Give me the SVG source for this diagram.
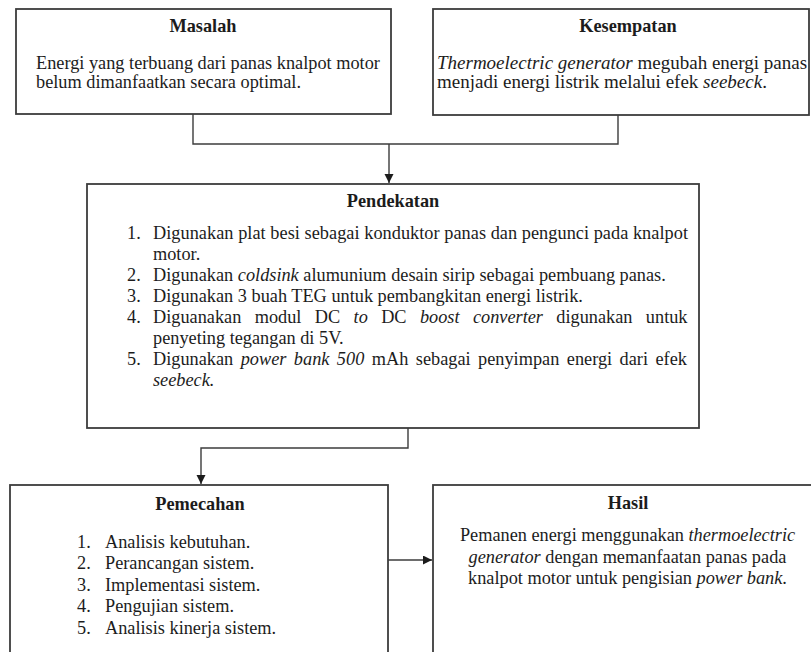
<svg xmlns="http://www.w3.org/2000/svg" width="811" height="652" viewBox="0 0 811 652">
<style>
  .box{fill:#fff;stroke:#3c3c3c;stroke-width:1.8}
  text{font-family:"Liberation Serif","Times New Roman",serif;font-size:18.3px;fill:#1c1c1c}
  .t{font-weight:bold;text-anchor:middle}
  .c{text-anchor:middle}
  .i{font-style:italic}
  .k{font-size:19px}
  .conn{fill:none;stroke:#3c3c3c;stroke-width:1.4}
</style>
<defs>
  <marker id="arr" markerUnits="userSpaceOnUse" markerWidth="10" markerHeight="10" refX="9" refY="4.5" orient="auto">
    <path d="M0,0 L9,4.5 L0,9 z" fill="#1c1c1c"/>
  </marker>
</defs>
<rect width="811" height="652" fill="#fff"/>
<g id="connectors">
  <path class="conn" d="M193,114 V144 H618 V115"/>
  <path class="conn" d="M389,144 V183" marker-end="url(#arr)"/>
  <path class="conn" d="M408,428 V448 H201 V484" marker-end="url(#arr)"/>
  <path class="conn" d="M388,560 H432" marker-end="url(#arr)"/>
</g>
<g id="masalah">
  <rect class="box" x="16" y="9" width="375" height="105"/>
  <text class="t" x="203" y="32">Masalah</text>
  <text x="36" y="69">Energi yang terbuang dari panas knalpot motor</text>
  <text x="36" y="88">belum dimanfaatkan secara optimal.</text>
</g>
<g id="kesempatan">
  <rect class="box" x="433" y="9" width="376" height="106"/>
  <text class="t" x="628" y="32">Kesempatan</text>
  <text class="k" x="437" y="69"><tspan class="i">Thermoelectric generator</tspan> megubah energi panas</text>
  <text class="k" x="437" y="88">menjadi energi listrik melalui efek <tspan class="i">seebeck</tspan>.</text>
</g>
<g id="pendekatan">
  <rect class="box" x="87" y="184" width="612" height="244"/>
  <text class="t" x="393" y="207">Pendekatan</text>
  <text x="127" y="239">1.</text>
  <text x="153" y="239" textLength="535" lengthAdjust="spacing">Digunakan plat besi sebagai konduktor panas dan pengunci pada knalpot</text>
  <text x="153" y="260">motor.</text>
  <text x="127" y="281">2.</text>
  <text x="153" y="281">Digunakan <tspan class="i">coldsink</tspan> alumunium desain sirip sebagai pembuang panas.</text>
  <text x="127" y="302">3.</text>
  <text x="153" y="302">Digunakan 3 buah TEG untuk pembangkitan energi listrik.</text>
  <text x="127" y="323">4.</text>
  <text x="153" y="323" style="word-spacing:8.8px">Diguanakan modul DC <tspan class="i">to</tspan> DC <tspan class="i">boost converter</tspan> digunakan untuk</text>
  <text x="153" y="344">penyeting tegangan di 5V.</text>
  <text x="127" y="365">5.</text>
  <text x="153" y="365" style="word-spacing:2.9px">Digunakan <tspan class="i">power bank 500</tspan> mAh sebagai penyimpan energi dari efek</text>
  <text x="153" y="386" class="i">seebeck.</text>
</g>
<g id="pemecahan">
  <rect class="box" x="10" y="485" width="378" height="185"/>
  <text class="t" x="200" y="510">Pemecahan</text>
  <text x="77" y="547.5">1.</text><text x="105" y="547.5">Analisis kebutuhan.</text>
  <text x="77" y="569">2.</text><text x="105" y="569">Perancangan sistem.</text>
  <text x="77" y="590.5">3.</text><text x="105" y="590.5">Implementasi sistem.</text>
  <text x="77" y="612">4.</text><text x="105" y="612">Pengujian sistem.</text>
  <text x="77" y="633.5">5.</text><text x="105" y="633.5">Analisis kinerja sistem.</text>
</g>
<g id="hasil">
  <rect class="box" x="433" y="485" width="390" height="185"/>
  <text class="t" x="628" y="509">Hasil</text>
  <text class="c" x="627.5" y="541">Pemanen energi menggunakan <tspan class="i">thermoelectric</tspan></text>
  <text class="c" x="627.5" y="562.5"><tspan class="i">generator</tspan> dengan memanfaatan panas pada</text>
  <text class="c" x="627.5" y="584">knalpot motor untuk pengisian <tspan class="i">power bank</tspan>.</text>
</g>
</svg>
